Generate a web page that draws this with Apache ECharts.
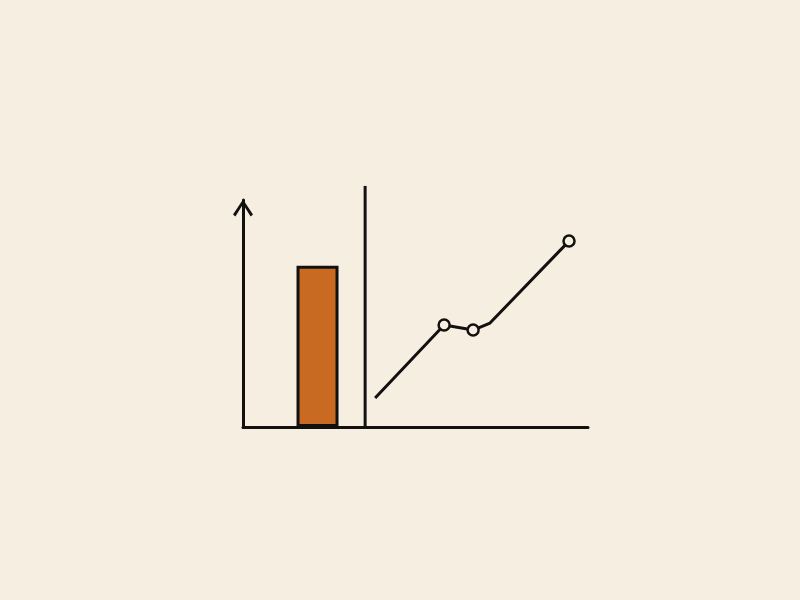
<!DOCTYPE html>
<html>
<head>
<meta charset="utf-8">
<script src="https://cdn.jsdelivr.net/npm/echarts@6/dist/echarts.min.js"></script>
<style>
  html, body { margin: 0; padding: 0; background: #f6eee0; }
  #chart { width: 800px; height: 600px; }
</style>
</head>
<body>
<div id="chart"></div>
<script>
// values on a 0..100 scale for both axes
const barX = [21.6];
const barValues = [71];
const dividerX = 35.4;
const dividerTop = 106.2;
const lineX = [38.3, 58.3, 66.7, 71.6, 94.5];
const lineValues = [12.8, 44.9, 42.7, 45.8, 81.9];
const lineMarkers = [false, true, true, false, true];

const ink = '#121110';

const chart = echarts.init(document.getElementById('chart'));

const option = {
    backgroundColor: '#f6eee0',
    animation: false,
    grid: {
        left: 243,
        right: 212,
        top: 200,
        bottom: 173
    },
    xAxis: {
        type: 'value',
        min: 0,
        max: 100,
        axisLine: {
            show: true,
            onZero: false,
            lineStyle: { color: ink, width: 3 }
        },
        axisTick: { show: false },
        axisLabel: { show: false },
        splitLine: { show: false }
    },
    yAxis: {
        type: 'value',
        min: 0,
        max: 100,
        axisLine: {
            show: true,
            onZero: false,
            symbol: ['none', 'path://M10,0 L20,15 L17.6,16.8 L10,4.6 L2.4,16.8 L0,15 Z'],
            symbolSize: [20, 17],
            symbolOffset: [0, -8],
            lineStyle: { color: ink, width: 3 }
        },
        axisTick: { show: false },
        axisLabel: { show: false },
        splitLine: { show: false }
    },
    series: [
        {
            type: 'bar',
            data: barX.map((x, i) => [x, barValues[i]]),
            barWidth: 42,
            itemStyle: {
                color: '#c86a22',
                borderColor: ink,
                borderWidth: 3
            }
        },
        {
            type: 'line',
            clip: false,
            symbol: 'none',
            data: [[dividerX, 0], [dividerX, dividerTop]],
            lineStyle: { color: ink, width: 3 }
        },
        {
            type: 'line',
            clip: false,
            data: lineX.map((x, i) => ({
                value: [x, lineValues[i]],
                symbol: lineMarkers[i] ? 'circle' : 'none'
            })),
            symbolSize: 11,
            lineStyle: { color: ink, width: 3 },
            itemStyle: {
                color: '#f6eee0',
                borderColor: ink,
                borderWidth: 2.5
            }
        }
    ]
};

chart.setOption(option);
</script>
</body>
</html>
